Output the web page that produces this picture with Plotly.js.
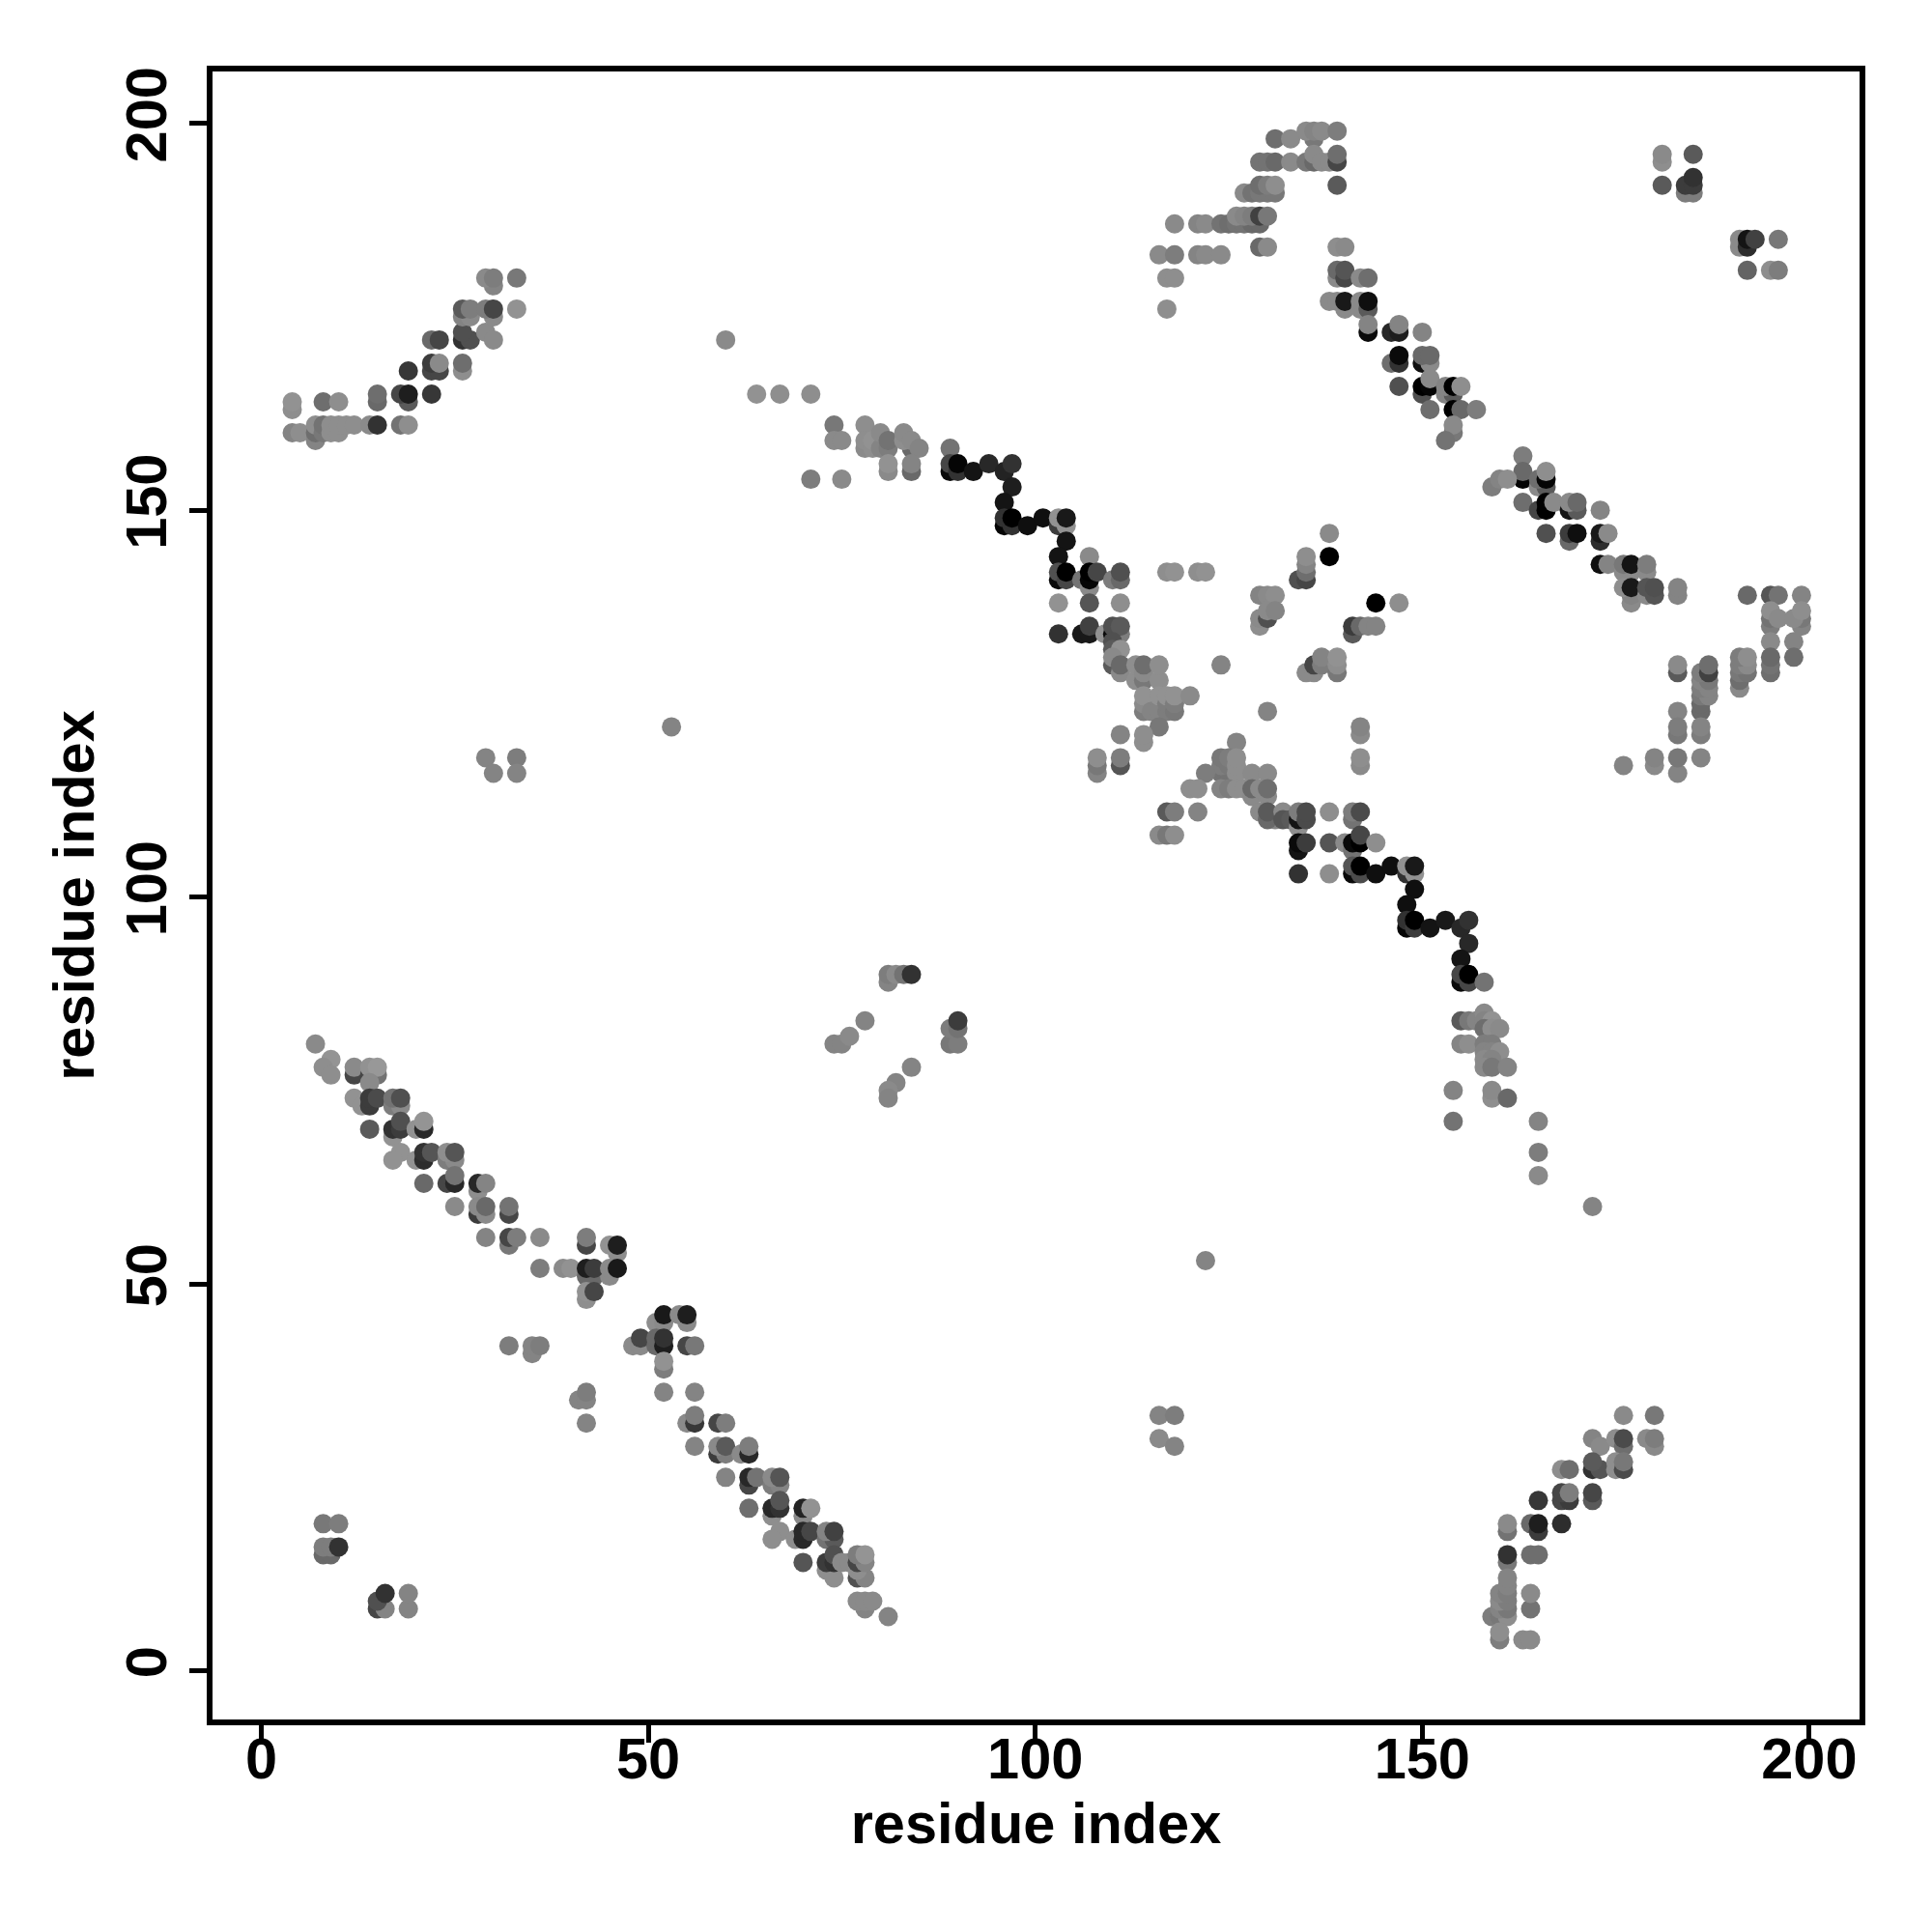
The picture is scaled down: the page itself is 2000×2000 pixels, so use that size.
<!DOCTYPE html>
<html>
<head>
<meta charset="utf-8">
<script src="https://cdn.plot.ly/plotly-3.0.1.min.js"></script>
<style>html,body{margin:0;padding:0;background:#fff}</style>
</head>
<body>
<div id="chart" style="width:2000px;height:2000px"></div>
<script>
// each contact: [residue i, residue j, grey level]; later entries paint on top
const lowerDiagonalA = [[7,81,138],[9,79,148],[8,78,142],[9,77,142],[12,77,70],[12,78,138],[14,77,70],[15,77,115],[14,78,146],[15,78,152],[14,76,138],[12,74,146],[13,73,146],[14,73,60],[14,74,60],[15,74,75],[17,73,125],[18,73,138],[17,74,115],[18,74,80],[14,70,90],[17,69,146],[17,70,50],[18,70,60],[18,71,80],[20,70,146],[21,70,40],[21,71,148],[18,67,146],[17,66,146],[20,66,146],[21,66,45],[21,67,50],[22,67,85],[24,66,125],[25,66,138],[24,67,142],[25,67,85],[21,63,105],[24,63,70],[25,63,40],[25,64,115],[28,62,142],[28,63,40],[29,63,132],[25,60,138],[28,59,60],[29,59,138],[28,60,138],[29,60,105],[32,59,70],[32,60,115],[29,56,132],[32,55,120],[32,56,70],[33,56,125],[36,56,138],[36,52,125],[39,52,138],[40,52,146]];
const lowerDiagonalB = [[42,55,70],[42,56,125],[46,54,142],[45,55,146],[46,55,30],[42,51,105],[43,51,105],[45,51,138],[42,52,30],[43,52,60],[45,52,138],[46,52,25],[42,48,142],[42,49,146],[43,49,70],[51,45,142],[52,45,138],[55,45,138],[52,46,25],[54,46,138],[55,46,30],[48,42,138],[49,42,138],[49,43,70],[51,42,105],[51,43,105],[52,42,30],[52,43,50],[55,42,70],[56,42,120],[52,39,125],[52,40,146],[32,42,125],[35,41,132],[35,42,132],[36,42,125],[41,35,132],[42,35,132],[42,36,125],[52,36,132],[56,36,132],[42,32,132]];
const lowerDiagonalC = [[55,32,138],[56,32,55],[56,33,125],[59,32,70],[60,32,125],[56,29,132],[59,28,60],[60,28,125],[59,29,138],[60,29,90],[62,28,138],[63,28,40],[63,29,125],[60,25,132],[63,24,70],[63,25,40],[64,25,115],[66,24,125],[67,24,132],[66,25,138],[67,25,85],[63,21,110],[66,20,142],[66,21,40],[67,21,50],[67,22,85],[70,20,138],[70,21,35],[71,21,146],[67,18,142],[66,17,142],[69,17,142],[70,17,40],[70,18,40],[71,18,70],[73,17,115],[74,17,90],[73,18,132],[74,18,65],[70,14,85],[73,13,142],[74,12,142],[73,14,60],[74,14,50],[74,15,80],[75,14,138],[76,14,138],[77,12,80],[78,12,132],[77,13,142],[77,14,70],[78,14,132],[77,15,125],[78,15,148],[78,8,132],[77,9,138],[78,9,138],[79,9,138],[81,7,132]];
const lowerCorner = [[8,19,120],[10,19,125],[8,15,105],[9,15,105],[8,16,125],[9,16,125],[10,16,50],[15,8,70],[16,8,132],[15,9,80],[16,10,50],[19,8,132],[19,10,132]];
const upperLeftArm = [[4,163,142],[4,164,146],[4,160,132],[5,160,142],[7,159,132],[7,160,110],[7,161,142],[8,160,120],[8,161,115],[9,160,142],[9,161,142],[10,160,142],[10,161,142],[11,161,142],[12,161,142],[8,164,110],[10,164,142],[15,164,105],[15,165,110],[14,161,138],[15,161,50],[18,161,115],[19,161,142],[19,164,90],[18,165,70],[19,165,30],[22,165,55],[19,168,55],[22,168,70],[23,168,70],[22,169,60],[23,169,138],[22,172,105],[23,172,70],[26,168,142],[26,169,110],[26,172,50],[27,172,80],[26,173,80],[29,173,138],[30,172,138],[26,175,132],[27,175,138],[26,176,90],[27,176,125],[30,175,138],[29,176,125],[30,176,70],[33,176,146],[30,179,132],[29,180,138],[30,180,125],[33,180,120]];
const scatteredContacts = [[60,172,138],[53,122,132],[29,118,132],[30,116,132],[33,118,125],[33,116,132],[122,53,132],[116,33,132],[118,33,125],[116,30,138],[118,29,132],[81,89,132],[81,90,125],[82,90,138],[83,90,115],[84,90,50],[89,81,120],[90,81,125],[89,83,125],[90,83,115],[90,84,60],[74,81,132],[75,81,132],[76,82,138],[78,84,132],[84,78,132],[82,76,132],[81,75,138],[81,74,132]];
const centralUpperA = [[64,165,146],[67,165,142],[71,165,142],[74,161,120],[74,159,138],[75,159,138],[78,161,142],[78,158,138],[78,159,142],[79,158,142],[79,159,146],[80,158,132],[80,160,138],[81,158,125],[81,159,115],[84,158,105],[83,159,142],[83,160,138],[84,159,138],[85,158,132],[81,155,138],[81,156,146],[84,155,105],[84,156,132],[71,154,125],[75,154,138],[89,158,115],[89,155,10],[89,156,70],[90,155,50],[90,156,5],[92,155,20],[94,156,40],[96,155,35],[97,156,50],[97,153,30],[96,151,20],[96,148,5],[96,149,50],[97,148,50],[97,149,0],[99,148,15],[101,149,15],[103,148,60],[103,149,146],[104,148,146],[104,149,25],[104,146,20],[103,144,20],[103,141,10],[103,142,80],[104,141,70],[104,142,0],[107,144,138],[106,141,115],[107,140,138],[107,141,5],[107,142,0],[108,142,70],[110,141,125],[111,141,105],[111,142,80],[103,138,146],[107,138,85],[111,138,142]];
const centralUpperB = [[103,134,50],[106,134,25],[107,134,25],[107,135,65],[109,134,146],[110,134,10],[111,134,125],[110,135,80],[111,135,90],[110,133,80],[110,132,90],[111,132,146],[110,130,90],[110,131,138],[111,129,138],[111,130,105],[113,128,142],[113,130,142],[114,128,120],[114,129,138],[114,130,110],[116,128,142],[116,130,142],[114,124,125],[114,125,138],[114,126,146],[115,124,132],[116,124,132],[116,126,146],[117,124,125],[117,125,125],[117,126,146],[118,124,120],[118,125,125],[118,126,146],[120,126,138],[116,122,120],[111,121,132],[114,120,142],[114,121,142],[117,142,142],[118,142,146],[121,142,142],[122,142,146],[124,130,132],[108,116,132],[108,117,120],[108,118,142],[111,117,85],[111,118,125],[130,124,132]];
const centralCross = [[129,139,132],[130,139,138],[131,139,142],[129,135,142],[129,136,138],[130,136,80],[130,137,138],[131,137,132],[134,141,80],[135,141,70],[135,142,110],[135,143,132],[135,144,142],[138,147,138],[138,144,0],[144,138,0],[147,138,142],[141,134,90],[141,135,60],[142,135,105],[143,135,132],[144,135,132],[135,129,138],[136,129,138],[136,130,70],[137,130,125],[137,131,132],[139,129,120],[139,130,142],[139,131,146],[142,121,138],[142,122,132],[142,117,138],[142,118,142]];
const centralLowerA = [[126,120,132],[124,116,115],[125,116,115],[124,117,125],[125,117,120],[124,118,120],[125,118,125],[126,116,142],[126,117,142],[126,118,142],[122,116,125],[128,116,138],[130,116,138],[120,114,142],[121,114,142],[124,114,132],[125,114,125],[126,114,142],[127,114,142],[128,113,138],[130,113,138],[128,114,105],[129,114,138],[130,114,110],[129,111,138],[131,110,132],[130,110,105],[130,111,90],[132,111,138],[132,110,85],[133,110,90],[134,109,142],[134,110,20],[134,111,125],[135,110,75],[135,111,75],[138,111,142],[141,110,115],[141,111,125],[142,111,75],[117,111,90],[118,111,125],[121,111,132],[116,108,138],[117,108,120],[118,108,142]];
const centralLowerB = [[134,106,20],[134,107,10],[135,107,60],[138,107,85],[140,107,138],[141,106,115],[141,107,10],[142,107,0],[142,108,70],[144,107,142],[134,103,50],[138,103,142],[141,103,10],[141,104,85],[142,103,75],[142,104,0],[144,103,15],[146,104,15],[148,103,50],[148,104,146],[149,103,146],[149,104,25],[149,101,15],[148,99,15],[148,96,5],[148,97,50],[149,96,60],[149,97,0],[151,96,20],[153,97,25],[155,96,40],[156,97,50],[156,94,40],[155,92,20],[155,89,10],[155,90,70],[156,89,70],[156,90,0],[158,89,115]];
const centralLowerC = [[155,84,90],[156,84,120],[157,84,132],[158,85,138],[158,84,132],[159,84,146],[158,83,110],[159,83,142],[160,83,138],[155,81,132],[156,81,142],[158,81,125],[159,81,125],[158,80,132],[159,80,132],[160,80,142],[158,79,138],[159,79,132],[158,78,138],[159,78,120],[161,78,132],[154,75,132],[159,74,142],[159,75,138],[161,74,105],[154,71,115],[165,71,132],[165,67,125],[165,64,138],[172,60,132]];
const lowerRightArm = [[176,33,138],[180,33,120],[172,30,132],[173,29,138],[175,30,142],[176,29,110],[176,30,75],[179,30,138],[180,29,138],[180,30,125],[168,26,142],[169,26,110],[172,26,50],[173,26,85],[172,27,90],[175,26,142],[175,27,142],[176,26,75],[176,27,120],[165,22,55],[168,22,70],[169,22,60],[168,23,70],[169,23,125],[172,22,90],[172,23,70],[161,18,115],[161,19,138],[164,19,105],[165,18,60],[165,19,30],[168,19,45],[161,14,120],[161,15,50],[164,15,110],[165,15,110],[159,7,125],[160,7,120],[161,7,142],[160,8,132],[161,8,120],[160,9,138],[161,9,125],[160,10,132],[161,10,125],[161,11,132],[161,12,132],[164,8,115],[164,10,138],[160,4,125],[160,5,142],[163,4,138],[164,4,138]];
const upperRightDiagonalA = [[131,198,110],[133,198,138],[136,198,120],[135,199,138],[136,199,132],[137,199,138],[139,199,125],[129,195,115],[130,195,115],[131,195,105],[133,195,138],[135,195,120],[136,195,105],[136,196,138],[137,195,138],[138,195,138],[139,195,70],[139,196,110],[139,192,90],[127,191,138],[128,191,115],[129,191,120],[130,191,120],[131,191,120],[129,192,110],[130,192,125],[131,192,142],[118,187,138],[121,187,132],[122,187,138],[124,187,115],[125,187,110],[126,187,115],[127,187,115],[128,187,105],[129,187,105],[126,188,138],[127,188,132],[128,188,125],[129,188,65],[130,188,120],[116,183,138],[118,183,125],[121,183,132],[122,183,138],[124,183,138],[129,184,105],[130,184,138],[117,180,142],[118,180,142],[117,176,142]];
const upperRightDiagonalB = [[139,184,142],[140,184,138],[139,180,138],[139,181,105],[140,180,70],[140,181,85],[142,180,138],[143,180,110],[138,177,138],[139,177,138],[140,176,138],[140,177,25],[142,176,138],[142,177,138],[143,176,90],[143,177,15],[143,173,10],[143,174,132],[146,173,40],[147,173,30],[147,174,132],[150,173,132],[146,169,110],[147,169,50],[147,170,10],[150,169,15],[151,169,138],[150,170,105],[151,170,105],[147,166,80],[150,165,80],[150,166,0],[151,166,5],[151,167,138],[153,165,132],[154,165,90],[153,166,132],[154,166,0],[155,166,142],[151,163,110],[154,163,0],[155,163,105],[157,163,125],[154,160,120],[154,161,138],[153,159,115]];
const upperRightDiagonalC = [[163,157,125],[163,154,5],[163,155,105],[159,153,125],[160,154,132],[161,154,142],[165,153,138],[166,153,90],[165,154,110],[166,154,5],[166,155,142],[163,151,110],[165,150,70],[166,150,0],[166,151,0],[167,151,138],[169,150,20],[170,150,90],[169,151,138],[170,151,105],[173,150,132],[166,147,80],[169,146,105],[169,147,60],[170,147,15],[173,146,45],[173,147,25],[174,147,138],[173,143,15],[174,143,132],[176,142,138],[177,142,138],[176,143,120],[177,143,20],[179,142,138],[179,143,125],[177,138,138],[177,139,132],[176,140,142],[177,140,25],[179,139,138],[180,139,85],[179,140,85],[180,140,80],[183,139,132],[183,140,132]];
const rightCluster = [[192,139,105],[195,139,85],[196,139,115],[199,139,132],[195,135,125],[195,136,115],[195,137,142],[196,136,138],[199,135,132],[199,136,120],[198,136,138],[199,137,142],[195,133,138],[198,133,132],[195,129,110],[195,130,115],[195,131,105],[198,131,110],[191,127,138],[191,128,110],[191,129,120],[192,129,115],[191,130,125],[192,130,138],[191,131,125],[192,131,142],[183,129,90],[183,130,138],[186,124,105],[186,125,105],[186,126,120],[187,126,132],[186,127,125],[187,127,132],[186,128,132],[187,128,120],[186,129,125],[187,129,65],[187,130,110],[183,124,132],[183,121,120],[183,122,125],[186,121,125],[186,122,132],[176,117,132],[180,117,138],[180,118,132],[183,116,132],[183,118,120],[186,118,132]];
const upperRightCorner = [[181,195,142],[181,196,138],[181,192,90],[184,191,125],[185,191,125],[184,192,60],[185,192,60],[185,193,50],[185,196,90],[191,184,138],[191,185,138],[192,184,45],[192,185,20],[193,185,65],[196,185,120],[192,181,100],[195,181,142],[196,181,125]];

const xTickValues = [0, 50, 100, 150, 200];
const yTickValues = [0, 50, 100, 150, 200];
const xLabel = 'residue index';
const yLabel = 'residue index';

const contacts = [].concat(
  lowerDiagonalA, lowerDiagonalB, lowerDiagonalC, lowerCorner, upperLeftArm, scatteredContacts,
  centralUpperA, centralUpperB, centralCross, centralLowerA, centralLowerB, centralLowerC,
  lowerRightArm, upperRightDiagonalA, upperRightDiagonalB, upperRightDiagonalC, rightCluster, upperRightCorner
);
const font = {family: '"Liberation Sans", Arial, sans-serif', size: 59.5, color: '#000'};
const boldFont = Object.assign({}, font, {weight: 700});

function axis(ticks, title, range, standoff, extra) {
  return Object.assign({
    range: range, tickmode: 'array', tickvals: ticks, ticktext: ticks.map(String),
    ticks: 'outside', ticklen: 18, tickwidth: 5, tickcolor: '#000',
    tickfont: boldFont, showgrid: false, zeroline: false, mirror: true,
    showline: true, linecolor: '#000', linewidth: 6,
    title: {text: '<b>' + title + '</b>', font: boldFont, standoff: standoff},
    automargin: false
  }, extra);
}

Plotly.newPlot('chart', [{
  type: 'scatter', mode: 'markers',
  x: contacts.map(c => c[0]), y: contacts.map(c => c[1]),
  marker: {size: 20, color: contacts.map(c => `rgb(${c[2]},${c[2]},${c[2]})`), line: {width: 0}},
  hoverinfo: 'x+y'
}], {
  width: 2000, height: 2000, showlegend: false,
  paper_bgcolor: '#fff', plot_bgcolor: '#fff',
  margin: {l: 220, r: 75, t: 74, b: 220, pad: 0},
  xaxis: axis(xTickValues, xLabel, [-6.3, 206.5], 12, {ticklabelstandoff: -34}),
  yaxis: axis(yTickValues, yLabel, [-6.3, 206.7], 3, {tickangle: -90})
}, {displayModeBar: false});
</script>
</body>
</html>
